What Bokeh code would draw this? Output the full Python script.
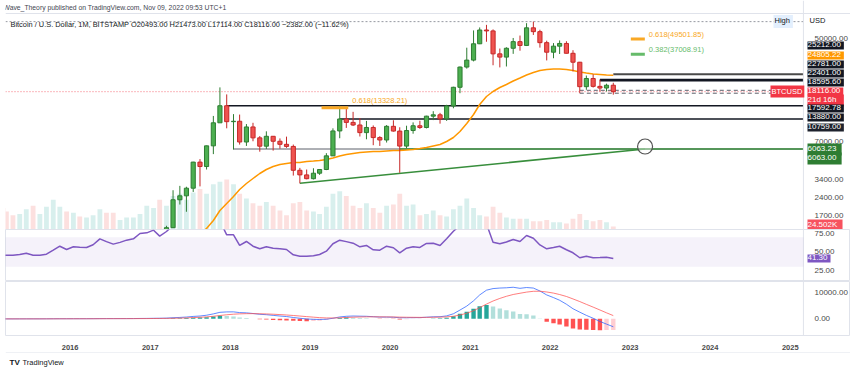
import pandas as pd
from bokeh.plotting import figure
from bokeh.layouts import column
from bokeh.models import (Range1d, LinearScale, FixedTicker, NumeralTickFormatter,
                          DatetimeTickFormatter, Label, BoxAnnotation, ColumnDataSource, Span)
from bokeh.embed import file_html
from bokeh.resources import INLINE

# ---------------- data (monthly BTC/USD, Bitstamp) ----------------
first_month = "2015-03-01"
last_month = "2022-11-01"

opens = [254, 244, 236, 230, 263, 284, 231, 236, 314, 377,
         430, 368, 437, 416, 448, 531, 673, 624, 575, 609, 698, 745,
         966, 970, 1190, 1080, 1350, 2300, 2480, 2870, 4720, 4340, 6440, 10000,
         13850, 10220, 10300, 6930, 9240, 7500, 6400, 7730, 7030, 6630, 6370, 4040,
         3700, 3440, 3820, 4100, 5320, 8560, 10760, 10080, 9590, 8290, 9150, 7540,
         7200, 9350, 8540, 6410, 8630, 9450, 9140, 11350, 11650, 10780, 13800, 19700,
         28980, 33100, 45200, 58800, 57800, 37300, 35050, 41500, 47100, 43800, 61300, 57000,
         46200, 38500, 43200, 45500, 37700, 31800, 19930, 23300, 20050, 19420, 20493]
highs = [300, 261, 248, 268, 318, 285, 245, 334, 495, 468,
         462, 448, 440, 470, 550, 780, 703, 626, 628, 720, 755, 980,
         1150, 1210, 1300, 1400, 2760, 3000, 2950, 4750, 5000, 6470, 11400, 19666,
         17200, 11800, 11700, 9760, 10000, 7770, 8500, 7760, 7420, 7680, 6600, 4230,
         4100, 4200, 4130, 5600, 9000, 13880, 13150, 12330, 10950, 10370, 9510, 7750,
         9580, 10500, 9180, 9460, 10080, 10400, 11440, 12480, 12090, 14100, 19900, 29300,
         41950, 58350, 61780, 64900, 59500, 41300, 42300, 50500, 52900, 67000, 69000, 59100,
         47950, 45800, 48200, 47450, 40000, 31980, 24650, 25212, 22781, 21100, 21473]
lows = [236, 215, 228, 218, 254, 162, 225, 235, 302, 348,
        350, 366, 394, 412, 436, 525, 600, 466, 570, 606, 685, 742,
        750, 920, 890, 1070, 1350, 2100, 1830, 2670, 2970, 4100, 5500, 10400,
        9000, 6000, 6600, 6430, 7030, 5760, 6070, 5880, 6100, 6200, 3650, 3150,
        3400, 3390, 3700, 4050, 5300, 7450, 9070, 9400, 7700, 7300, 6520, 6430,
        6860, 8450, 3850, 6160, 8120, 8900, 8980, 10530, 9840, 10380, 13200, 17600,
        28130, 32300, 44950, 47000, 30000, 28800, 29300, 37300, 39600, 43300, 53500, 42000,
        32900, 34300, 37200, 37600, 26700, 17600, 18780, 19600, 18150, 18200, 17114]
closes = [244, 236, 230, 263, 284, 231, 236, 314, 377, 430,
          368, 437, 416, 448, 531, 673, 624, 575, 609, 698, 745, 966,
          970, 1190, 1080, 1350, 2300, 2480, 2870, 4720, 4340, 6440, 10000, 13850,
          10220, 10300, 6930, 9240, 7500, 6400, 7730, 7030, 6630, 6370, 4040, 3700,
          3440, 3820, 4100, 5320, 8560, 10759, 10080, 9590, 8290, 9150, 7540, 7200,
          9350, 8540, 6410, 8630, 9450, 9140, 11350, 11650, 10780, 13800, 19700, 28980,
          33100, 45200, 58800, 57800, 37300, 35050, 41500, 47100, 43800, 61300, 57000, 46200,
          38500, 43200, 45500, 37700, 31800, 19930, 23300, 20050, 19420, 20493, 18116]
volume_k = [180, 150, 120, 130, 170, 200, 130, 190, 250, 190,
            150, 140, 110, 100, 120, 170, 140, 140, 80, 100, 100, 130,
            200, 180, 250, 200, 280, 300, 250, 310, 340, 300, 380, 400,
            420, 380, 300, 260, 220, 200, 230, 200, 160, 120, 220, 230,
            160, 150, 130, 190, 300, 320, 280, 200, 180, 220, 180, 140,
            200, 210, 300, 200, 210, 120, 130, 160, 120, 110, 170, 200,
            260, 180, 120, 110, 190, 140, 100, 90, 90, 90, 70, 70,
            80, 60, 60, 50, 90, 130, 80, 70, 80, 60, 24.502]

ema_first_month = "2017-08-01"
ema_values = [1058, 1186, 1331, 1549, 1874, 2142, 2449, 2799, 3139, 3453, 3799, 4101,
              4342, 4511, 4600, 4687, 4687, 4777, 4822, 4868, 4962, 5105, 5303, 5461,
              5566, 5674, 5728, 5783, 5783, 5838, 5895, 5895, 5951, 6008, 6124, 6242,
              6423, 6610, 6996, 7551, 8469, 9869, 11717, 14183, 16523, 18181, 19621, 20777,
              22211, 23522, 24910, 26126, 27143, 27667, 27930, 27930, 27667, 27143, 26381,
              25881, 25392, 25145, 24910, 24805.22]

rsi_values = [45.5, 45.7, 45.7, 46.5, 48.4, 45.7, 45.7, 47.0, 52.4, 57.8,
              53.4, 57.0, 56.5, 56.1, 59.7, 67.8, 64.0, 60.6, 63.0, 66.0, 67.8, 75.0,
              75.9, 79.5, 71.4, 77.7, 86.0, 84.0, 85.0, 90.0, 85.0, 89.0, 93.0, 92.0,
              73.2, 73.2, 58.8, 64.2, 57.8, 54.3, 57.0, 55.0, 54.3, 53.4, 46.2, 44.3,
              44.3, 45.0, 46.6, 51.1, 61.1, 66.0, 64.0, 61.9, 57.0, 58.8, 53.0, 52.4,
              57.8, 55.7, 48.9, 55.1, 57.0, 56.1, 61.5, 61.9, 58.8, 67.8, 78.0, 86.0,
              87.0, 90.0, 91.0, 88.0, 63.2, 61.1, 63.5, 66.9, 64.2, 72.3, 68.5, 59.5,
              54.3, 56.0, 57.8, 53.0, 48.9, 42.2, 44.3, 42.2, 42.4, 43.0, 41.3]

macd_values = [-30, -30, -28, -22, -12, -10, -8, 2, 20, 30,
               30, 35, 38, 42, 52, 75, 85, 85, 85, 92, 100, 130,
               150, 190, 210, 260, 400, 520, 660, 900, 1050, 1350, 1850, 2450,
               2600, 2620, 2350, 2250, 2000, 1700, 1550, 1300, 1050, 850, 500, 200,
               -50, -200, -250, -150, 200, 700, 950, 1050, 1000, 950, 800, 650,
               650, 600, 400, 400, 450, 450, 600, 750, 800, 1100, 1900, 3300,
               4800, 6800, 9000, 10800, 11400, 11600, 11700, 11900, 11500, 11800, 11600, 10500,
               9000, 8000, 7000, 5500, 3800, 2500, 1300, 200, -1000, -2000, -3000]
signal_values = [-30, -30, -30, -28, -25, -22, -19, -15, -8, 0,
                 6, 12, 17, 22, 28, 37, 47, 55, 61, 67, 74, 85,
                 98, 116, 135, 160, 208, 270, 348, 459, 577, 732, 955, 1254,
                 1523, 1743, 1864, 1941, 1953, 1903, 1832, 1726, 1591, 1442, 1254, 1043,
                 825, 620, 446, 327, 301, 381, 495, 606, 685, 738, 750, 730,
                 714, 691, 633, 586, 559, 537, 550, 590, 632, 726, 960, 1428,
                 2104, 3043, 4234, 5547, 6718, 7694, 8495, 9176, 9641, 10073, 10378, 10402,
                 10122, 9698, 9158, 8426, 7501, 6501, 5461, 4409, 3327, 2262, 1210]
hist_values = [0, 0, 2, 6, 13, 12, 11, 17, 28, 30,
               24, 23, 21, 20, 24, 38, 38, 30, 24, 25, 26, 45,
               52, 74, 75, 100, 192, 250, 312, 441, 473, 618, 895, 1196,
               1077, 877, 486, 309, 47, -203, -282, -426, -541, -592, -754, -843,
               -875, -820, -696, -477, -101, 319, 455, 444, 315, 212, 50, -80,
               -64, -91, -233, -186, -109, -87, 50, 160, 168, 374, 940, 1872,
               2696, 3757, 4766, 5253, 4682, 3906, 3205, 2724, 1859, 1727, 1222, 98,
               -1122, -1698, -2158, -2926, -3701, -4001, -4161, -4209, -4327, -4262, -4210]

level_prices = [25212.00, 22781.00, 22401.00, 13880.00, 10759.00, 6063.00, 6063.23]
level_starts = ["2022-11-01", "2022-09-01", "2022-09-01", "2018-01-01", "2019-06-01",
                "2018-02-01", "2020-03-01"]
dashed_prices = [18595.60, 17592.78]
dashed_start = "2022-06-01"
trend_dates = ["2018-12-01", "2023-03-26"]
trend_prices = [3150.00, 6063.23]
circle_date = "2023-03-26"
circle_price = 6360.0
fib_prices = [13328.21, 49501.85, 37008.91]
fib_texts = ["0.618(13328.21)", "0.618(49501.85)", "0.382(37008.91)"]
fib_starts = ["2019-03-10", "2023-01-20", "2023-01-20"]
fib_ends = ["2019-07-10", "2023-03-25", "2023-03-25"]
year_ticks = list(range(2016, 2026))
last_close = 18116.00

# ---------------- layout constants ----------------
FONT = "Liberation Sans"
W = 850
FRAME_L = 5
GREEN_F, GREEN_L = "#4caf50", "#2e7d32"
RED_F, RED_L = "#ef5350", "#c62828"
SEP = "#e0e3eb"

dates = pd.date_range(first_month, last_month, freq="MS")
ema_dates = pd.date_range(ema_first_month, last_month, freq="MS")
DAY = 86400000
x_start = pd.Timestamp("2015-03-28")
axis_col = pd.Timestamp("2025-03-18")      # where the price-scale column begins
x_range = Range1d(start=x_start, end=pd.Timestamp("2025-10-19"))

up = [c >= o for o, c in zip(opens, closes)]
src = ColumnDataSource(dict(
    date=dates, open=opens, high=highs, low=lows, close=closes,
    top=[max(o, c) for o, c in zip(opens, closes)],
    bot=[min(o, c) for o, c in zip(opens, closes)],
    fill=[GREEN_F if u else RED_F for u in up],
    line=[GREEN_L if u else RED_L for u in up],
    vol=volume_k,
    vcol=["#26a69a" if u else "#ef5350" for u in up],
    rsi=rsi_values, macd=macd_values, signal=signal_values, hist=hist_values,
))
hcols = []
prev = 0
for h in hist_values:
    if h >= 0:
        hcols.append("#26a69a" if h >= prev else "#b2dfdb")
    else:
        hcols.append("#ff5252" if h < prev else "#ffcdd2")
    prev = h
src.data["hcol"] = hcols


def style(p):
    p.xgrid.visible = False
    p.ygrid.visible = False
    p.background_fill_color = "white"
    p.border_fill_color = "white"
    for ax in p.yaxis:
        ax.major_tick_line_color = None
        ax.minor_tick_line_color = None
        ax.axis_line_color = None
        ax.major_label_standoff = -(W - 808)
        ax.major_label_text_font = FONT
        ax.major_label_text_font_size = "8px"
        ax.major_label_text_color = "#4a4a4a"
    p.add_layout(Span(location=axis_col, dimension="height", line_color=SEP, line_width=1))


def lab(p, text, rx, ry, frame_bottom, size="8px", color="#131722", bg=None,
        bold=False, pad=0):
    kw = {}
    if bg is not None:
        kw = dict(background_fill_color=bg, background_fill_alpha=1.0)
    p.add_layout(Label(x=rx - FRAME_L, y=frame_bottom - ry, x_units="screen", y_units="screen",
                       text=text, text_font=FONT, text_font_size=size, text_color=color,
                       text_align="left", text_baseline="middle", padding=pad,
                       text_font_style="bold" if bold else "normal", **kw))


common = dict(width=W, x_range=x_range, x_axis_type="datetime", output_backend="svg",
              toolbar_location=None, min_border_left=FRAME_L, min_border_right=0,
              y_axis_location="right")

# ---------------- main pane ----------------
p1 = figure(height=229, y_axis_type="log", y_range=Range1d(1304, 103300),
            x_axis_location=None, min_border_top=0, min_border_bottom=0, **common)
style(p1)
p1.outline_line_color = None
p1.yaxis.ticker = FixedTicker(ticks=[1700, 2400, 3400, 7000, 50000])
p1.yaxis.formatter = NumeralTickFormatter(format="0.00")
p1.extra_y_ranges = {"vol": Range1d(0, 1920)}
p1.extra_y_scales = {"vol": LinearScale()}
p1.add_layout(Span(location=80580, dimension="width", line_color=SEP, line_width=1))

p1.vbar(x="date", top="vol", bottom=0, width=22 * DAY, source=src, y_range_name="vol",
        fill_color="vcol", line_color=None, fill_alpha=0.18)

p1.segment(x0=[x_start], y0=[max(highs)], x1=[axis_col], y1=[max(highs)],
           line_color="#9598a1", line_dash="2 2", line_width=1)
p1.segment(x0=[x_start], y0=[last_close], x1=[axis_col], y1=[last_close],
           line_color="#f23645", line_dash="1 2", line_width=1, line_alpha=0.7)

lv = ColumnDataSource(dict(x0=pd.to_datetime(level_starts), x1=[axis_col] * len(level_prices),
                           y=level_prices,
                           c=["#4a4a4a", "#131722", "#131722", "#131722", "#131722", "#5d606b", "#388e3c"],
                           w=[2, 2, 2, 1.5, 1.5, 1, 1.5]))
p1.segment(x0="x0", y0="y", x1="x1", y1="y", line_color="c", line_width="w", source=lv)
ds = ColumnDataSource(dict(x0=[pd.Timestamp(dashed_start)] * 2, x1=[axis_col] * 2, y=dashed_prices))
p1.segment(x0="x0", y0="y", x1="x1", y1="y", line_color="#5d606b", line_width=1,
           line_dash="4 3", source=ds)

p1.line(x=pd.to_datetime(trend_dates), y=trend_prices, line_color="#388e3c", line_width=1.5)
p1.line(x=ema_dates, y=ema_values, line_color="#ff9800", line_width=1.5)

p1.segment(x0="date", y0="high", x1="date", y1="low", line_color="line", line_width=1, source=src)
p1.vbar(x="date", top="top", bottom="bot", width=19 * DAY, fill_color="fill",
        line_color="line", line_width=1, source=src)

p1.scatter(x=[pd.Timestamp(circle_date)], y=[circle_price], size=15, marker="circle",
           fill_color="white", fill_alpha=0.4, line_color="#555555", line_width=1.2)

fib_cols = ["#f9a825", "#f9a825", "#66bb6a"]
fib_yoff = [3, 0, 0]
fs = ColumnDataSource(dict(x0=pd.to_datetime(fib_starts), x1=pd.to_datetime(fib_ends),
                           y=fib_prices, c=fib_cols))
p1.segment(x0="x0", y0="y", x1="x1", y1="y", line_color="c", line_width=3, source=fs)
for t, yv, xe, c, yo in zip(fib_texts, fib_prices, fib_ends, fib_cols, fib_yoff):
    p1.add_layout(Label(x=pd.Timestamp(xe), y=yv, x_offset=4, y_offset=yo, text=t,
                        text_font=FONT, text_font_size="7.5px", text_color=c,
                        text_baseline="bottom"))

# header and scale boxes
lab(p1, "Wave_Theory published on TradingView.com, Nov 09, 2022 09:53 UTC+1", 3, 7, 229,
    size="6.8px", color="#434651")
lab(p1, "Bitcoin / U.S. Dollar, 1M, BITSTAMP  O20493.00  H21473.00  L17114.00  C18116.00  \u22122382.00 (\u221211.62%)",
    10, 24, 229, size="7.4px", color="#131722")
lab(p1, "USD", 809, 20, 229, size="7.5px", color="#131722")
lab(p1, "High", 773, 21, 229, size="7.5px", color="#131722", bg="#e3effd", pad=(1, 3, 1, 3))
lab(p1, "BTCUSD", 770, 91, 229, size="7.5px", color="white", bg="#f23645", pad=(1, 2, 1, 2))

axis_boxes = [("25212.00", 45, "#131722"), ("24805.22", 55, "#ff9800"),
              ("22781.00", 64, "#131722"), ("22401.00", 73, "#131722"),
              ("18595.60", 82, "#131722"), ("18116.00", 91, "#f23645"),
              ("21d 16h  ", 100, "#f23645"), ("17592.78", 108, "#131722"),
              ("13880.00", 117, "#131722"), ("10759.00", 127, "#1e222d"),
              ("6063.23 ", 149, "#2e7d32"), ("6063.00 ", 158, "#2e7d32"),
              ("24.502K ", 225, "#f7525f")]
for t, ry, bg in axis_boxes:
    lab(p1, t, 807, ry, 229, size="8px", color="white", bg=bg, pad=(0, 3, 0, 3))

# ---------------- RSI pane ----------------
p2 = figure(height=52, y_range=Range1d(10.1, 80.4), x_axis_location=None,
            min_border_top=0, min_border_bottom=0, **common)
style(p2)
p2.outline_line_color = SEP
p2.yaxis.ticker = FixedTicker(ticks=[25, 50, 75])
p2.yaxis.formatter = NumeralTickFormatter(format="0.00")
p2.add_layout(BoxAnnotation(bottom=30, top=70, right=axis_col, fill_color="#7e57c2",
                            fill_alpha=0.08, line_alpha=0))
p2.line(x="date", y="rsi", source=src, line_color="#7e57c2", line_width=1.5)
lab(p2, "41.30", 807, 258, 281, size="8px", color="white", bg="#7e57c2", pad=(0, 3, 0, 3))

# ---------------- MACD pane ----------------
p3 = figure(height=71, y_range=Range1d(-6296, 14074), min_border_top=0,
            min_border_bottom=16, **common)
style(p3)
p3.outline_line_color = SEP
p3.yaxis.ticker = FixedTicker(ticks=[0, 10000])
p3.yaxis.formatter = NumeralTickFormatter(format="0.00")
p3.vbar(x="date", top="hist", bottom=0, width=20 * DAY, fill_color="hcol",
        line_color=None, source=src)
p3.line(x="date", y="macd", source=src, line_color="#2962ff", line_width=1, line_alpha=0.75)
p3.line(x="date", y="signal", source=src, line_color="#ff5252", line_width=1, line_alpha=0.75)

xa = p3.xaxis[0]
xa.ticker = FixedTicker(ticks=[pd.Timestamp(f"{y}-01-17").value // 10**6 for y in year_ticks])
xa.formatter = DatetimeTickFormatter(years="%Y", months="%Y", days="%Y", hours="%Y")
xa.major_tick_line_color = None
xa.minor_tick_line_color = None
xa.axis_line_color = None
xa.major_label_standoff = 3
xa.major_label_text_font = FONT
xa.major_label_text_font_size = "7.5px"
xa.major_label_text_font_style = "bold"
xa.major_label_text_color = "#4a4a4a"

# ---------------- footer ----------------
p4 = figure(width=W, height=19, x_range=Range1d(0, W), y_range=Range1d(0, 19),
            output_backend="svg", toolbar_location=None, min_border=0,
            x_axis_location=None, y_axis_location=None)
p4.xgrid.visible = False
p4.ygrid.visible = False
p4.outline_line_color = None
p4.add_layout(Span(location=19, dimension="width", line_color=SEP, line_width=1))
p4.add_layout(Label(x=4, y=9, x_units="screen", y_units="screen", text="TV", text_font=FONT,
                    text_font_size="8px", text_font_style="bold", text_color="#131722",
                    text_baseline="middle"))
p4.add_layout(Label(x=17, y=9, x_units="screen", y_units="screen", text="TradingView",
                    text_font=FONT, text_font_size="7.5px", text_color="#131722",
                    text_baseline="middle"))

layout = column(p1, p2, p3, p4, spacing=0)
open("out.html", "w").write(file_html(layout, INLINE))
